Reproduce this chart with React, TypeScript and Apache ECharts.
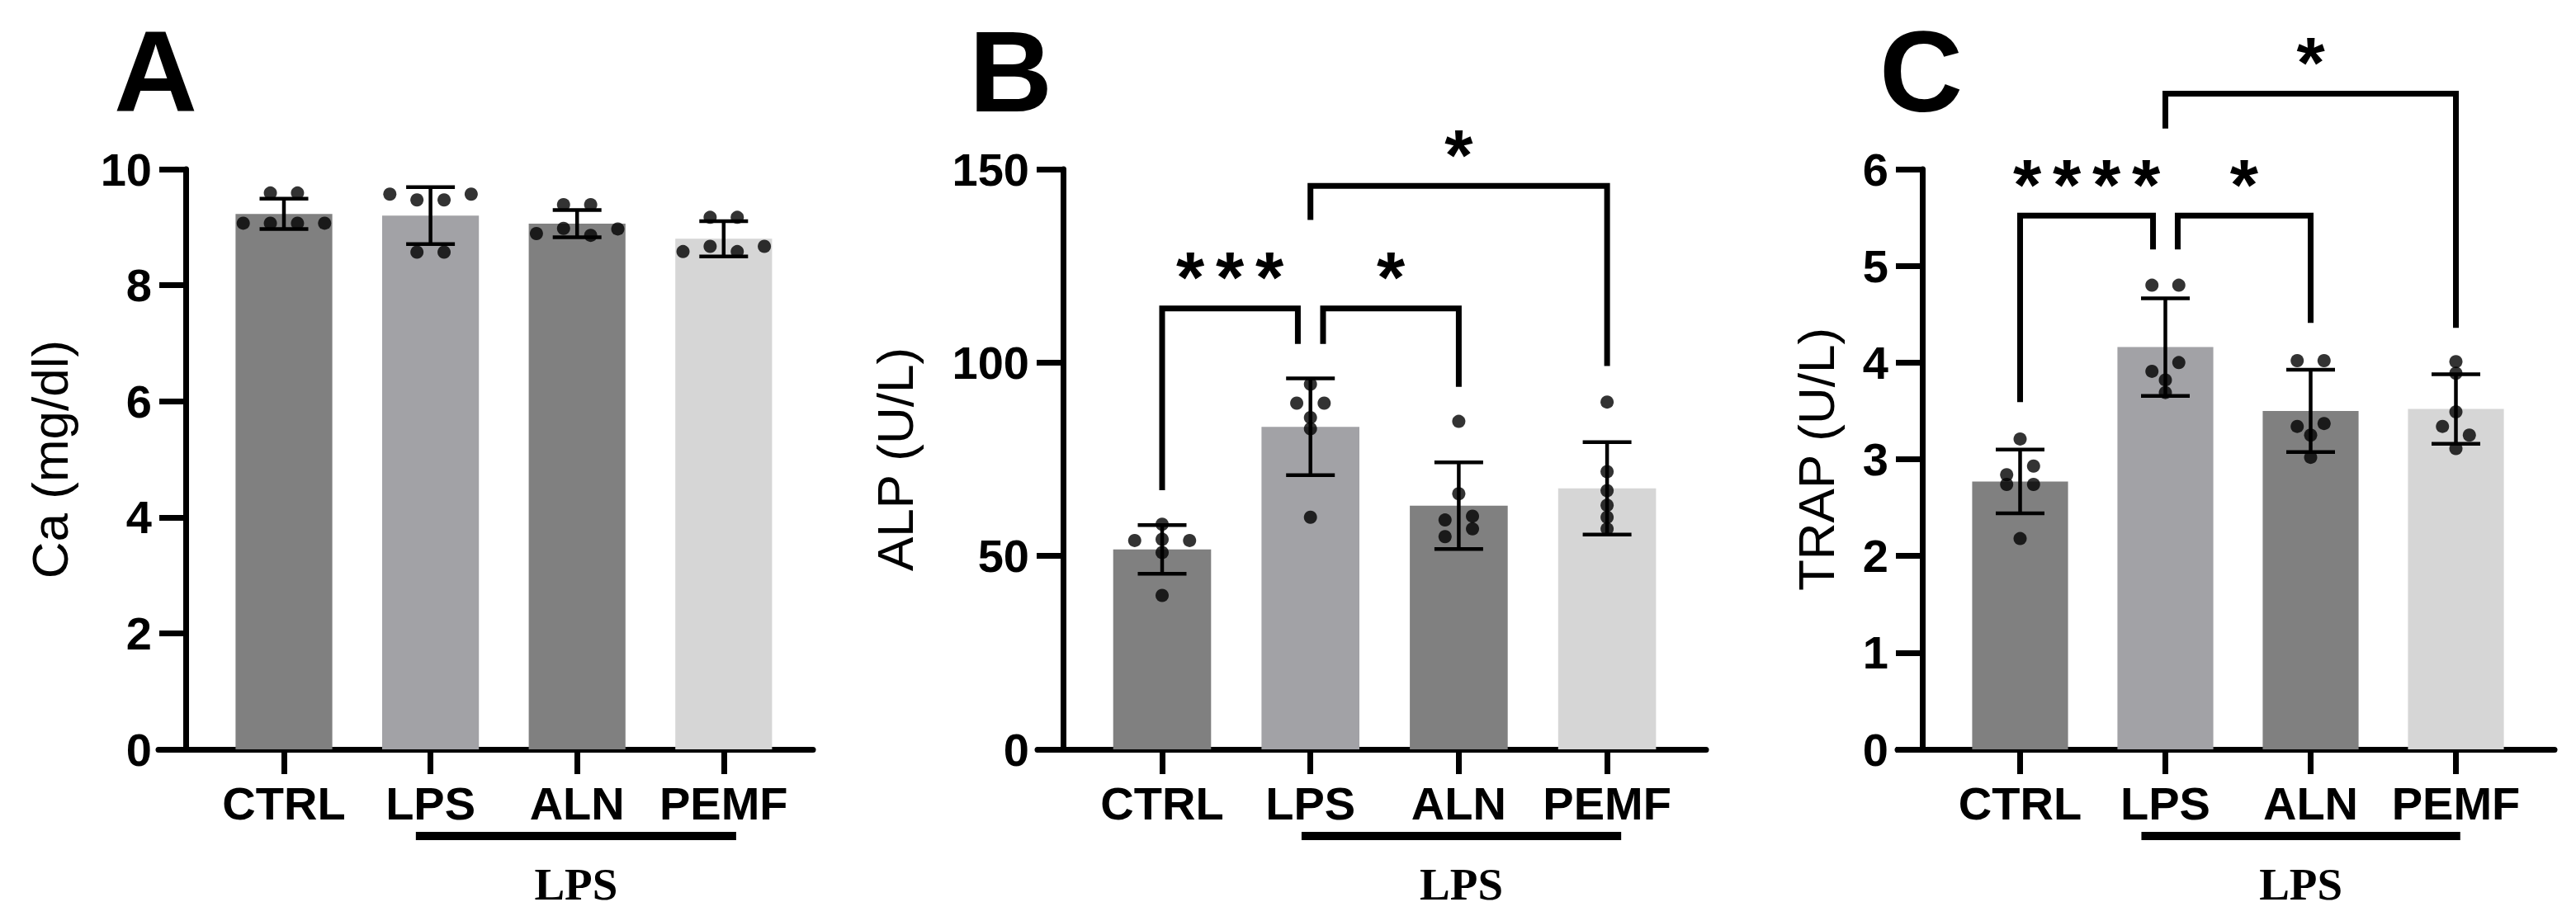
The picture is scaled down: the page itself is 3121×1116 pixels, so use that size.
import React, { useEffect, useRef } from 'react';
import * as echarts from 'echarts';

// ---------- data ----------
const CATEGORIES = ['CTRL', 'LPS', 'ALN', 'PEMF'];
const BAR_COLORS = ['#808080', '#a2a2a6', '#808080', '#d6d6d6'];

// Panel A – Ca (mg/dl)
const CA_MEAN = [9.23, 9.2, 9.06, 8.8];
const CA_SD = [0.26, 0.49, 0.235, 0.305];
const CA_POINTS = [
  [9.59, 9.59, 9.07, 9.07, 9.07, 9.07],
  [9.57, 9.47, 9.47, 9.57, 8.57, 8.57],
  [9.39, 9.39, 8.89, 8.98, 8.86, 8.97],
  [9.17, 9.17, 8.58, 8.67, 8.58, 8.67],
];
const CA_Y_MAX = 10;
const CA_Y_STEP = 2;
const CA_COMPARISONS: any[] = [];
const CA_GROUP_SPAN = [0.9, 3.085];

// Panel B – ALP (U/L)
const ALP_MEAN = [51.7, 83.4, 63.0, 67.5];
const ALP_SD = [6.3, 12.5, 11.2, 11.95];
const ALP_POINTS = [
  [58.2, 54.0, 54.3, 54.0, 50.9, 39.8],
  [94.4, 89.5, 89.5, 85.8, 82.9, 60.0],
  [84.8, 66.1, 59.3, 60.3, 55.0, 57.0],
  [89.8, 71.8, 66.9, 63.1, 60.0, 57.0],
];
const ALP_Y_MAX = 150;
const ALP_Y_STEP = 50;
const ALP_COMPARISONS = [
  { a: 0, b: 1, y: 114.0, ya: 67.0, yb: 104.8, label: '***' },
  { a: 1, b: 2, y: 114.0, ya: 104.8, yb: 93.7, label: '*' },
  { a: 1, b: 3, y: 145.7, ya: 136.9, yb: 99.1, label: '*' },
];
const ALP_GROUP_SPAN = [0.94, 3.095];

// Panel C – TRAP (U/L)
const TRAP_MEAN = [2.77, 4.16, 3.5, 3.52];
const TRAP_SD = [0.33, 0.505, 0.425, 0.36];
const TRAP_POINTS = [
  [3.21, 2.84, 2.93, 2.74, 2.74, 2.18],
  [4.8, 4.8, 3.91, 4.0, 3.82, 3.69],
  [4.02, 4.02, 3.34, 3.37, 3.25, 3.02],
  [4.01, 3.89, 3.49, 3.34, 3.25, 3.11],
];
const TRAP_Y_MAX = 6;
const TRAP_Y_STEP = 1;
const TRAP_COMPARISONS = [
  { a: 0, b: 1, y: 5.52, ya: 3.59, yb: 5.17, label: '****' },
  { a: 1, b: 2, y: 5.52, ya: 5.17, yb: 4.41, label: '*' },
  { a: 1, b: 3, y: 6.78, ya: 6.42, yb: 4.36, label: '*' },
];
const TRAP_GROUP_SPAN = [0.835, 3.03];

const GROUP_LABEL = 'LPS';

// ---------- layout ----------
const SANS = 'Liberation Sans, Arial, sans-serif';
const SERIF = 'Liberation Serif, Times New Roman, serif';
const PLOT_TOP = 205;
const PLOT_H = 703;
const AXIS_W = 7;

const PANELS = [
  {
    letter: 'A', title: 'Ca (mg/dl)', means: CA_MEAN, sd: CA_SD, points: CA_POINTS,
    yMax: CA_Y_MAX, yStep: CA_Y_STEP, comps: CA_COMPARISONS, span: CA_GROUP_SPAN,
    lay: { left: 192, axisX: 225, right: 985, c0: 344, step: 177.6, letterX: 138, nameGap: 134 },
  },
  {
    letter: 'B', title: 'ALP (U/L)', means: ALP_MEAN, sd: ALP_SD, points: ALP_POINTS,
    yMax: ALP_Y_MAX, yStep: ALP_Y_STEP, comps: ALP_COMPARISONS, span: ALP_GROUP_SPAN,
    lay: { left: 1257, axisX: 1288, right: 2067, c0: 1408, step: 179.7, letterX: 1174, nameGap: 173 },
  },
  {
    letter: 'C', title: 'TRAP (U/L)', means: TRAP_MEAN, sd: TRAP_SD, points: TRAP_POINTS,
    yMax: TRAP_Y_MAX, yStep: TRAP_Y_STEP, comps: TRAP_COMPARISONS, span: TRAP_GROUP_SPAN,
    lay: { left: 2299, axisX: 2329, right: 3095, c0: 2447.5, step: 176, letterX: 2277, nameGap: 98 },
  },
];

// simple row-based swarm: points closer than thr (value units) share a row and spread sideways
function swarmOffsets(values: number[], thr: number, spread: number): number[] {
  const idx = values.map((_, i) => i).sort((a, b) => values[b] - values[a]);
  const rows: number[][] = [];
  let cur: number[] = [];
  let start = 0;
  idx.forEach((i) => {
    if (cur.length && start - values[i] > thr) {
      rows.push(cur);
      cur = [];
    }
    if (!cur.length) start = values[i];
    cur.push(i);
  });
  if (cur.length) rows.push(cur);
  const off = new Array(values.length).fill(0);
  rows.forEach((r) => {
    r.sort((a, b) => a - b);
    r.forEach((i, k) => {
      off[i] = (k - (r.length - 1) / 2) * spread;
    });
  });
  return off;
}

function buildOption() {
  const grids: any[] = [];
  const xAxes: any[] = [];
  const yAxes: any[] = [];
  const series: any[] = [];
  const graphics: any[] = [];
  const blackLine = { color: '#000', width: AXIS_W };

  PANELS.forEach((p, k) => {
    const L = p.lay;
    const xmin = (L.left - L.c0) / L.step;
    const xmax = (L.right - L.c0) / L.step;
    grids.push({ left: L.left, top: PLOT_TOP, width: L.right - L.left, height: PLOT_H, outerBoundsMode: 'none', containLabel: false });
    xAxes.push({
      gridIndex: k, type: 'value', min: xmin, max: xmax,
      axisLine: { show: true, onZero: false, lineStyle: blackLine },
      axisTick: { show: true, customValues: [0, 1, 2, 3], length: 30, lineStyle: blackLine },
      axisLabel: {
        show: true, customValues: [0, 1, 2, 3],
        formatter: (v: number) => CATEGORIES[Math.round(v)] ?? '',
        fontSize: 56, fontWeight: 'bold', fontFamily: SANS, color: '#000', margin: 37,
      },
      splitLine: { show: false },
    });
    yAxes.push({
      gridIndex: k, type: 'value', min: 0, max: p.yMax, interval: p.yStep,
      offset: -(L.axisX - L.left),
      axisLine: { show: true, onZero: false, lineStyle: blackLine },
      axisTick: { show: true, length: 32, lineStyle: blackLine },
      axisLabel: { fontSize: 56, fontWeight: 'bold', fontFamily: SANS, color: '#000', margin: 41 },
      splitLine: { show: false },
      name: p.title, nameLocation: 'middle', nameGap: L.nameGap, nameRotate: 90,
      nameTextStyle: { fontSize: 62, fontFamily: SANS, color: '#000', fontWeight: 'normal' },
    });

    // bars
    series.push({
      type: 'bar', xAxisIndex: k, yAxisIndex: k, barWidth: L.step * 0.66, z: 2,
      data: p.means.map((m, i) => ({ value: [i, m], itemStyle: { color: BAR_COLORS[i] } })),
    });

    // dots
    const thr = 13 / (PLOT_H / p.yMax);
    const dots: number[][] = [];
    p.points.forEach((vals, i) => {
      const off = swarmOffsets(vals, thr, 0.185);
      vals.forEach((v, j) => dots.push([i + off[j], v]));
    });
    series.push({
      type: 'scatter', xAxisIndex: k, yAxisIndex: k, symbol: 'circle', symbolSize: 16, z: 4,
      itemStyle: { color: '#000' }, data: dots,
    });

    // error bars (mean ± SD)
    series.push({
      type: 'custom', xAxisIndex: k, yAxisIndex: k, z: 5,
      data: p.means.map((m, i) => [i, m - p.sd[i], m + p.sd[i]]),
      renderItem: (params: any, api: any) => {
        const x = api.value(0);
        const lo = api.coord([x, api.value(1)]);
        const hi = api.coord([x, api.value(2)]);
        const hw = 29.5;
        const st = { stroke: '#000', lineWidth: 4.5 };
        return {
          type: 'group',
          children: [
            { type: 'line', shape: { x1: lo[0], y1: lo[1], x2: hi[0], y2: hi[1] }, style: st },
            { type: 'line', shape: { x1: hi[0] - hw, y1: hi[1], x2: hi[0] + hw, y2: hi[1] }, style: st },
            { type: 'line', shape: { x1: lo[0] - hw, y1: lo[1], x2: lo[0] + hw, y2: lo[1] }, style: st },
          ],
        };
      },
    });

    // significance brackets
    if (p.comps.length) {
      const comps = p.comps;
      const STAR_F = 88;
      series.push({
        type: 'custom', xAxisIndex: k, yAxisIndex: k, z: 6, clip: false,
        data: comps.map((c: any) => [c.a, c.y]),
        renderItem: (params: any, api: any) => {
          const c = comps[params.dataIndex];
          let xa = c.a;
          let xb = c.b;
          comps.forEach((o: any, j: number) => {
            if (j === params.dataIndex || o.y !== c.y) return;
            if (o.b === c.a) xa += 0.085;
            if (o.a === c.b) xb -= 0.085;
          });
          const pA = api.coord([xa, c.ya]);
          const pAt = api.coord([xa, c.y]);
          const pBt = api.coord([xb, c.y]);
          const pB = api.coord([xb, c.yb]);
          const children: any[] = [
            {
              type: 'polyline',
              shape: { points: [pA, pAt, pBt, pB] },
              style: { stroke: '#000', fill: 'none', lineWidth: 7, lineJoin: 'miter', lineCap: 'butt' },
            },
          ];
          const n = c.label.length;
          const cx = (pAt[0] + pBt[0]) / 2;
          const cy = pAt[1] - 45;
          for (let s = 0; s < n; s++) {
            children.push({
              type: 'text',
              x: cx + (s - (n - 1) / 2) * 48,
              y: cy + 0.24 * STAR_F - 14,
              style: {
                text: '*', fontSize: STAR_F, fontWeight: 'bold', fontFamily: SANS,
                fill: '#000', align: 'center', verticalAlign: 'middle',
              },
            });
          }
          return { type: 'group', children };
        },
      });
    }

    // treatment group underline + label
    series.push({
      type: 'custom', xAxisIndex: k, yAxisIndex: k, z: 6, clip: false,
      data: [[p.span[0], 0, p.span[1]]],
      renderItem: (params: any, api: any) => {
        const p0 = api.coord([api.value(0), api.value(1)]);
        const p1 = api.coord([api.value(2), api.value(1)]);
        return {
          type: 'group',
          children: [
            { type: 'line', shape: { x1: p0[0], y1: p0[1] + 105, x2: p1[0], y2: p0[1] + 105 }, style: { stroke: '#000', lineWidth: 10 } },
            {
              type: 'text', x: (p0[0] + p1[0]) / 2, y: p0[1] + 163,
              style: {
                text: GROUP_LABEL, fontSize: 55, fontWeight: 'bold', fontFamily: SERIF,
                fill: '#000', align: 'center', verticalAlign: 'middle',
              },
            },
          ],
        };
      },
    });

    graphics.push({
      type: 'text', x: L.letterX, y: 86,
      style: {
        text: p.letter, fontSize: 140, fontWeight: 'bold', fontFamily: SANS,
        fill: '#000', align: 'left', verticalAlign: 'middle',
      },
    });
  });

  return {
    animation: false,
    backgroundColor: '#ffffff',
    textStyle: { fontFamily: SANS },
    grid: grids,
    xAxis: xAxes,
    yAxis: yAxes,
    series,
    graphic: graphics,
  };
}

export default function App() {
  const ref = useRef<HTMLDivElement>(null);
  useEffect(() => {
    if (!ref.current) return;
    const chart = echarts.init(ref.current, null, { renderer: 'svg' });
    chart.setOption(buildOption() as any);
    return () => chart.dispose();
  }, []);
  return (
    <div
      ref={ref}
      style={{ position: 'fixed', left: 0, top: 0, width: 3121, height: 1116, background: '#fff' }}
    />
  );
}
